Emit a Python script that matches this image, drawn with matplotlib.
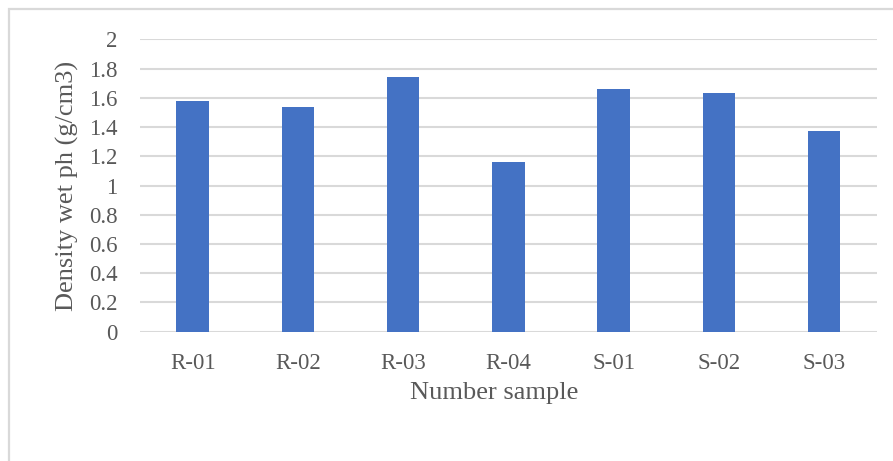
#!/usr/bin/env python3
import matplotlib
matplotlib.use("Agg")
import matplotlib.pyplot as plt
from matplotlib.patches import Rectangle

# sample names and measured wet density
samples = ["R-01", "R-02", "R-03", "R-04", "S-01", "S-02", "S-03"]
density = [1.58, 1.54, 1.74, 1.16, 1.66, 1.63, 1.37]
yticks = [0, 0.2, 0.4, 0.6, 0.8, 1, 1.2, 1.4, 1.6, 1.8, 2]
ytick_labels = ["0", "0.2", "0.4", "0.6", "0.8", "1", "1.2", "1.4", "1.6", "1.8", "2"]

text_col = "#595959"
grid_col = "#d9d9d9"
plt.rcParams["font.family"] = ["Liberation Serif", "DejaVu Serif"]

W, H = 893, 461
fig = plt.figure(figsize=(W / 100, H / 100), dpi=100)

# light frame round the chart area (cut by image edge on right and bottom)
fig.patches.append(Rectangle((8.5 / W, -0.1), 1.2, 1 - 9.5 / H + 0.1,
                             transform=fig.transFigure, fill=False,
                             edgecolor=grid_col, linewidth=1.6))

ax = fig.add_axes([140 / W, 129.3 / H, 736.7 / W, 292.4 / H])
x = range(len(samples))
ax.bar(x, density, width=0.31, color="#4472C4", zorder=3)

ax.set_xlim(-0.5, len(samples) - 0.5)
ax.set_ylim(0, 2)
ax.set_yticks(yticks)
ax.set_yticklabels(ytick_labels)
ax.set_xticks(list(x))
ax.set_xticklabels(samples)
ax.yaxis.grid(True, color=grid_col, linewidth=1.5, zorder=0)
ax.set_axisbelow(True)
for s in ax.spines.values():
    s.set_visible(False)
ax.tick_params(axis="y", length=0, pad=16, labelsize=16.5, labelcolor=text_col)
ax.tick_params(axis="x", length=0, pad=15, labelsize=16.5, labelcolor=text_col)

ax.set_xlabel("Number sample", fontsize=19, color=text_col)
ax.set_ylabel("Density wet ph (g/cm3)", fontsize=19, color=text_col)
# place axis titles where they sit in the picture
ax.xaxis.set_label_coords((494 - 140) / 736.7, -(393 - 331.7) / 292.4)
ax.xaxis.label.set_verticalalignment("center")
ax.yaxis.set_label_coords(-(140 - 67) / 736.7, 0.5)
ax.yaxis.label.set_verticalalignment("center")

fig.savefig("out.png", dpi=100)
